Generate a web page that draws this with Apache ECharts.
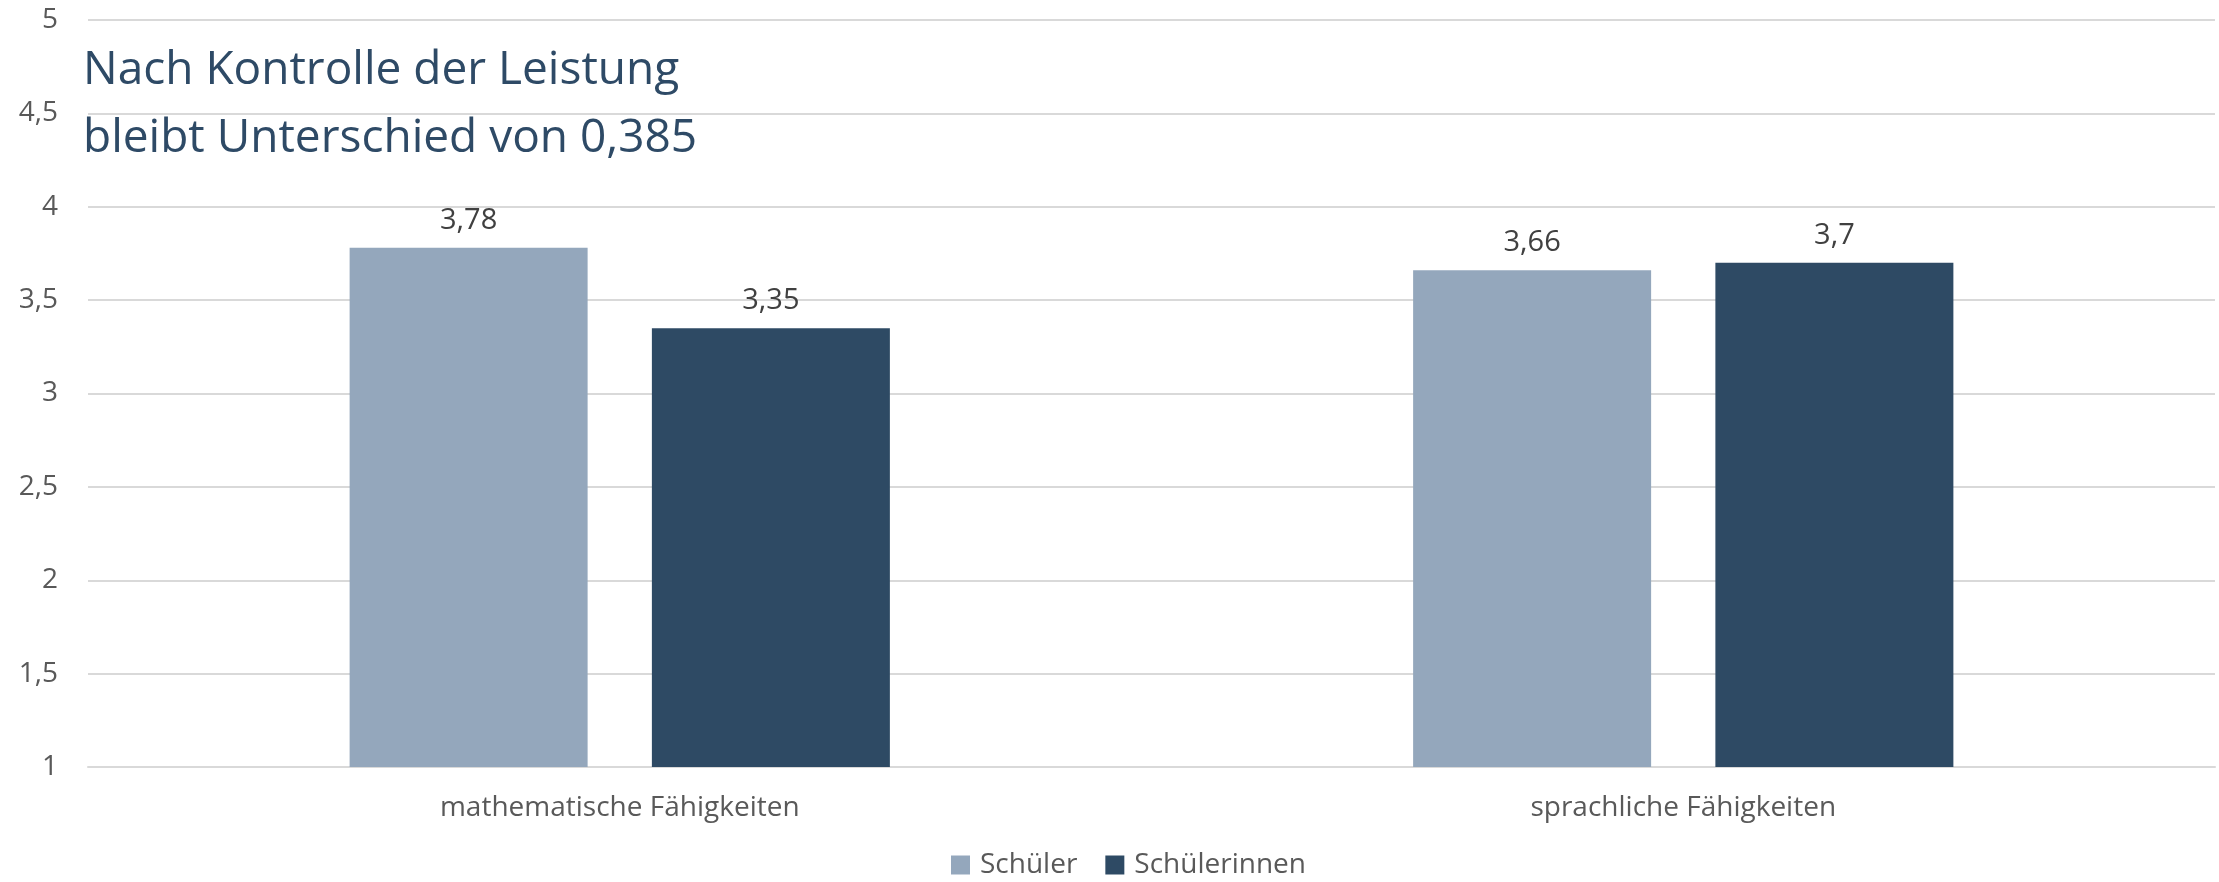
<!DOCTYPE html>
<html>
<head>
<meta charset="utf-8">
<style>
  html, body { margin: 0; padding: 0; background: #fff; }
  #chart { width: 2219px; height: 882px; }
</style>
<script src="https://cdn.jsdelivr.net/npm/echarts@6/dist/echarts.min.js"></script>
</head>
<body>
<div id="chart"></div>
<script>
// Kategorien und Werte
const categories = ['mathematische Fähigkeiten', 'sprachliche Fähigkeiten']
const seriesNames = ['Schüler', 'Schülerinnen']
const schueler = [3.78, 3.66]
const schuelerinnen = [3.35, 3.7]
const titleLines = ['Nach Kontrolle der Leistung', 'bleibt Unterschied von 0,385']

// Zahl mit Komma als Dezimaltrenner
const deNum = v => String(v).replace('.', ',')

const font = 'Open Sans'
const textGray = '#595959'

const barLabel = {
    show: true,
    position: 'top',
    distance: 13,
    fontFamily: font,
    fontSize: 29,
    color: '#404040',
    formatter: p => deNum(p.value)
}

const option = {
    color: ['#94a7bc', '#2e4a64'],
    textStyle: { fontFamily: font },
    title: {
        text: titleLines.join('\n'),
        left: 78,
        top: 32,
        textStyle: {
            fontFamily: font,
            fontSize: 46,
            fontWeight: 'normal',
            lineHeight: 68,
            color: '#2e4a66'
        }
    },
    legend: {
        bottom: -2,
        left: 946,
        itemWidth: 19,
        itemHeight: 19,
        itemGap: 28,
        icon: 'rect',
        textStyle: {
            fontFamily: font,
            fontSize: 28,
            color: textGray,
            padding: [0, 0, 0, 5]
        }
    },
    grid: {
        left: 88,
        right: 4,
        top: 20,
        bottom: 115
    },
    xAxis: {
        type: 'category',
        data: categories,
        axisTick: { show: false },
        axisLine: { lineStyle: { color: '#d9d9d9', width: 2 } },
        axisLabel: { fontFamily: font, fontSize: 28, color: textGray, margin: 27 }
    },
    yAxis: {
        type: 'value',
        min: 1,
        max: 5,
        interval: 0.5,
        axisLine: { show: false },
        axisTick: { show: false },
        axisLabel: {
            fontFamily: font,
            fontSize: 28,
            color: textGray,
            margin: 30,
            formatter: deNum
        },
        splitLine: { lineStyle: { color: '#d9d9d9', width: 2 } }
    },
    series: [
        {
            name: seriesNames[0],
            type: 'bar',
            data: schueler,
            barWidth: 238,
            barGap: '27%',
            label: barLabel
        },
        {
            name: seriesNames[1],
            type: 'bar',
            data: schuelerinnen,
            barWidth: 238,
            barGap: '27%',
            label: barLabel
        }
    ]
}

const chart = echarts.init(document.getElementById('chart'))
chart.setOption(option)
window.addEventListener('resize', () => chart.resize())
</script>
</body>
</html>
